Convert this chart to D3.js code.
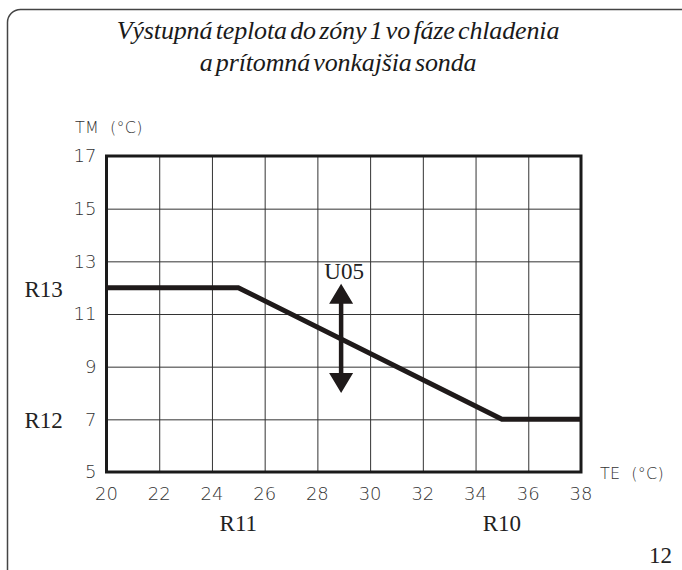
<!DOCTYPE html>
<html>
<head>
<meta charset="utf-8">
<script src="https://cdn.jsdelivr.net/npm/d3@7"></script>
<style>
  body { margin: 0; background: #fff; }
  svg { display: block; }
</style>
</head>
<body>
<svg id="chart"></svg>
<script>
// data
var teValues = [20, 25, 35, 38];
var tmValues = [12, 12, 7, 7];
var xTicks = [20, 22, 24, 26, 28, 30, 32, 34, 36, 38];
var yTicks = [5, 7, 9, 11, 13, 15, 17];
var arrowTe = 28.9;
var arrowTm = [8.0, 12.15];
var titleLines = ["Výstupná teplota do zóny 1 vo fáze chladenia", "a prítomná vonkajšia sonda"];
var yParams = [{label: "R13", tm: 12}, {label: "R12", tm: 7}];
var xParams = [{label: "R11", te: 25}, {label: "R10", te: 35}];

// set the dimensions and margins of the graph
var margin = {top: 156, right: 101, bottom: 98, left: 106.5},
    width = 682 - margin.left - margin.right,
    height = 570 - margin.top - margin.bottom;

var tickFont = "DejaVu Sans";

var root = d3.select("#chart")
    .attr("width", 682)
    .attr("height", 570);

// page frame with rounded corners (only top/left visible)
root.append("rect")
  .attr("x", 7.5).attr("y", 9.5)
  .attr("width", 690).attr("height", 575)
  .attr("rx", 13)
  .attr("fill", "none")
  .attr("stroke", "#444")
  .attr("stroke-width", 1.5);

// title
root.selectAll(".title")
  .data(titleLines)
  .enter()
  .append("text")
    .attr("class", "title")
    .attr("x", 338)
    .attr("y", function(d, i) { return 39 + i * 32; })
    .attr("text-anchor", "middle")
    .attr("font-family", "Liberation Serif")
    .attr("font-style", "italic")
    .attr("font-size", 26)
    .attr("word-spacing", -3)
    .attr("letter-spacing", -0.15)
    .attr("fill", "#1a1a1a")
    .text(function(d) { return d; });

var svg = root.append("g")
    .attr("transform", "translate(" + margin.left + "," + margin.top + ")");

var x = d3.scaleLinear().domain([20, 38]).range([0, width]);
var y = d3.scaleLinear().domain([5, 17]).range([height, 0]);

// grid
svg.append("g")
  .attr("transform", "translate(0," + height + ")")
  .call(d3.axisBottom(x).tickValues(xTicks).tickSize(-height).tickFormat(""))
  .call(function(g) {
    g.select(".domain").remove();
    g.selectAll("line").attr("stroke", "#333").attr("stroke-width", 1);
  });
svg.append("g")
  .call(d3.axisLeft(y).tickValues(yTicks).tickSize(-width).tickFormat(""))
  .call(function(g) {
    g.select(".domain").remove();
    g.selectAll("line").attr("stroke", "#333").attr("stroke-width", 1);
  });

// tick labels
svg.selectAll(".xlab")
  .data(xTicks)
  .enter()
  .append("text")
    .attr("class", "xlab")
    .attr("x", function(d) { return x(d); })
    .attr("y", height + 28)
    .attr("text-anchor", "middle")
    .attr("font-family", tickFont)
    .attr("font-weight", 200)
    .attr("font-size", 18)
    .attr("fill", "#333")
    .text(function(d) { return d; });

svg.selectAll(".ylab")
  .data(yTicks)
  .enter()
  .append("text")
    .attr("class", "ylab")
    .attr("x", -10)
    .attr("y", function(d) { return y(d); })
    .attr("dy", "0.35em")
    .attr("text-anchor", "end")
    .attr("font-family", tickFont)
    .attr("font-weight", 200)
    .attr("font-size", 18)
    .attr("fill", "#333")
    .text(function(d) { return d; });

// axis titles
root.append("text")
  .attr("x", 75).attr("y", 133)
  .attr("font-family", tickFont)
  .attr("font-weight", 200)
  .attr("font-size", 16)
  .attr("letter-spacing", 0.3)
  .attr("fill", "#333")
  .attr("xml:space", "preserve")
  .text("TM  (°C)");
root.append("text")
  .attr("x", 600).attr("y", 479)
  .attr("font-family", tickFont)
  .attr("font-weight", 200)
  .attr("font-size", 16)
  .attr("letter-spacing", 0.3)
  .attr("fill", "#333")
  .attr("xml:space", "preserve")
  .text("TE  (°C)");

// plot frame
svg.append("rect")
  .attr("width", width).attr("height", height)
  .attr("fill", "none")
  .attr("stroke", "#1a1a1a")
  .attr("stroke-width", 3);

// the curve
var line = d3.line()
  .x(function(d) { return x(d[0]); })
  .y(function(d) { return y(d[1]); });
svg.append("path")
  .datum(d3.zip(teValues, tmValues))
  .attr("d", line)
  .attr("fill", "none")
  .attr("stroke", "#1f1a1a")
  .attr("stroke-width", 5);

// double arrow U05
var ax = x(arrowTe), yTop = y(arrowTm[1]), yBot = y(arrowTm[0]), hh = 20, hw = 12;
svg.append("line")
  .attr("x1", ax).attr("x2", ax)
  .attr("y1", yTop + hh - 2).attr("y2", yBot - hh + 2)
  .attr("stroke", "#1f1a1a")
  .attr("stroke-width", 4.5);
svg.append("path")
  .attr("d", "M" + ax + "," + yTop + "L" + (ax - hw) + "," + (yTop + hh) + "L" + (ax + hw) + "," + (yTop + hh) + "Z"
    + "M" + ax + "," + yBot + "L" + (ax - hw) + "," + (yBot - hh) + "L" + (ax + hw) + "," + (yBot - hh) + "Z")
  .attr("fill", "#1f1a1a");
svg.append("text")
  .attr("x", ax + 3)
  .attr("y", yTop - 5)
  .attr("text-anchor", "middle")
  .attr("font-family", "Liberation Serif")
  .attr("font-size", 23)
  .attr("fill", "#222")
  .text("U05");

// parameter labels
svg.selectAll(".rpy")
  .data(yParams)
  .enter()
  .append("text")
    .attr("class", "rpy")
    .attr("x", -82)
    .attr("y", function(d) { return y(d.tm) + 9; })
    .attr("font-family", "Liberation Serif")
    .attr("font-size", 23)
    .attr("fill", "#222")
    .text(function(d) { return d.label; });
svg.selectAll(".rpx")
  .data(xParams)
  .enter()
  .append("text")
    .attr("class", "rpx")
    .attr("x", function(d) { return x(d.te); })
    .attr("y", height + 59)
    .attr("text-anchor", "middle")
    .attr("font-family", "Liberation Serif")
    .attr("font-size", 23)
    .attr("fill", "#222")
    .text(function(d) { return d.label; });

// page number
root.append("text")
  .attr("x", 672).attr("y", 563)
  .attr("text-anchor", "end")
  .attr("font-family", "Liberation Serif")
  .attr("font-size", 23)
  .attr("fill", "#222")
  .text("12");
</script>
</body>
</html>
